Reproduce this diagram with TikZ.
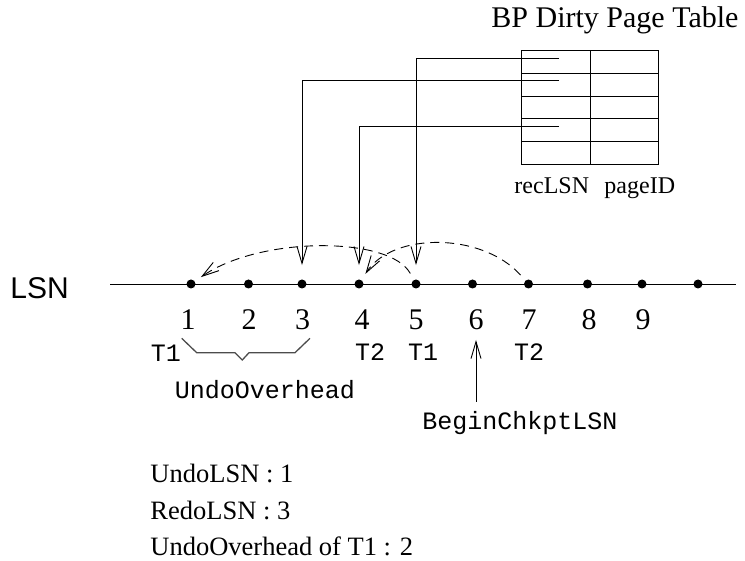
\documentclass[tikz,border=0pt]{standalone}
\usepackage{fontspec}
\setmainfont{Liberation Serif}
\newfontfamily\lsnsans{Liberation Sans}
\newfontfamily\lsnmono{Liberation Mono}
\usetikzlibrary{arrows.meta}
\begin{document}
\begin{tikzpicture}[x=1pt,y=-1pt,line width=0.9pt,
  arr/.style={-{Straight Barb[length=17pt,width=10pt]}},
  dotnode/.style={circle,fill=black,inner sep=0pt,minimum size=9pt},
  numlab/.style={font=\fontsize{30}{36}\selectfont,inner sep=0pt},
  monolab/.style={font=\lsnmono\fontsize{25}{30}\selectfont,inner sep=0pt},
  seriflab/.style={font=\fontsize{26.5}{32}\selectfont,inner sep=0pt},
  tablab/.style={font=\fontsize{24}{29}\selectfont,inner sep=0pt},
  dashcurve/.style={dash pattern=on 9pt off 6pt,arr,shorten <=7pt,shorten >=7pt}]
\useasboundingbox (0,0) rectangle (745,561);
% title
\node[font=\fontsize{30}{36}\selectfont,inner sep=0pt,anchor=base west] (title) at (491,27.5) {BP Dirty Page Table};
% table
\draw (521.7,50.7) rectangle (658,164);
\draw (590,50.7) -- (590,164);
\foreach \yy in {73.3,96,118.7,141.7} \draw (521.7,\yy) -- (658,\yy);
\coordinate (r1) at (559,58.3);
\coordinate (r2) at (559,80.7);
\coordinate (r4) at (559,126);
\node[tablab,anchor=base west] (reclsn) at (514,193.3) {recLSN};
\node[tablab,anchor=base west] (pageid) at (604,193.3) {pageID};
% axis
\node[font=\lsnsans\fontsize{30}{36}\selectfont,inner sep=0pt,anchor=base west] (lsn) at (10,298.3) {LSN};
\coordinate (axl) at (110,284);
\coordinate (axr) at (736,284);
\draw (axl) -- (axr);
\foreach \i/\xx in {1/191,2/248.5,3/302,4/359,5/416,6/472.5,7/528.5,8/587.5,9/642,10/698}
  \node[dotnode] (d\i) at (\xx,284) {};
% numbers
\foreach \i/\xx in {1/188,2/249,3/302.5,4/362,5/416,6/476,7/529,8/589,9/643}
  \node[numlab] (n\i) at (\xx,320) {\i};
% connectors from table
\draw[arr,shorten >=14pt] (r1) -| (d5);
\draw[arr,shorten >=14pt] (r2) -| (d3);
\draw[arr,shorten >=14pt] (r4) -| (d4);
% dashed backward links
\draw[dashcurve] (d5) .. controls (390,236) and (260,236) .. (d1);
\draw[dashcurve] (d7) .. controls (482,232) and (392,232) .. (d4);
% transaction labels
\node[monolab] (t1a) at (166,353) {T1};
\node[monolab] (t2a) at (370,352) {T2};
\node[monolab] (t1b) at (423,352) {T1};
\node[monolab] (t2b) at (529,352) {T2};
% brace
\draw[line width=1.3pt,black!70] (181.7,338.3) -- (196.7,352.7) -- (235,352.7) -- (242.3,360) -- (249,352.7) -- (295,352.7) -- (310,338.3);
\node[monolab] (undoov) at (265,390) {UndoOverhead};
% begin checkpoint
\node[monolab] (bcl) at (520,423) {BeginChkptLSN};
\coordinate (bclt) at (476,402);
\coordinate (bclh) at (476,340);
\draw[arr] (bclt) -- (bclh);
% bottom text
\node[seriflab,anchor=base west] (ul) at (150,482.5) {UndoLSN : 1};
\node[seriflab,anchor=base west] (rl) at (150,519) {RedoLSN : 3};
\node[seriflab,anchor=base west] (uo) at (150,555) {UndoOverhead of T1 : 2};
\end{tikzpicture}
\end{document}
